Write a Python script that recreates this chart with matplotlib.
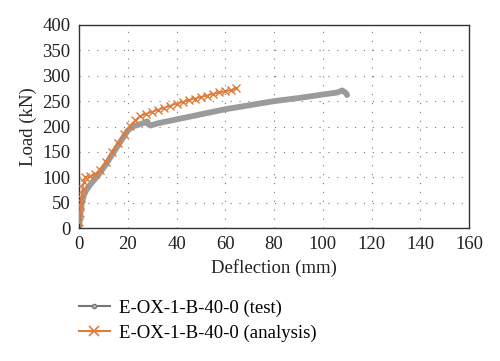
import matplotlib.pyplot as plt
from matplotlib.lines import Line2D

OUTPUT_PATH = "out.png"

# test curve (deflection mm, load kN)
test_defl = [0, 0.3, 0.7, 1.2, 2.0, 3.0, 5.0, 8.0, 11.0, 14.0, 17.0, 20.0, 22.0,
             24.0, 26.0, 28.0, 28.5, 29.5, 32.0, 40.0, 50.0, 60.0, 70.0, 80.0,
             90.0, 100.0, 106.0, 108.0, 109.5, 110.0]
test_load = [0, 15, 35, 50, 65, 75, 88, 105, 125, 148, 170, 192, 200,
             203, 206, 210, 204, 202, 206, 214, 224, 234, 242, 250,
             256, 263, 267, 271, 266, 262]

# analysis curve
ana_defl = [0, 0.3, 0.6, 1.0, 1.5, 2.0, 2.6, 4.5, 6.5, 8.5, 11.0, 13.5, 16.0,
            18.5, 21.0, 23.0, 25.0, 27.5, 30.0, 32.5, 35.0, 37.5, 40.0, 42.5,
            45.0, 47.5, 50.0, 52.5, 55.0, 57.5, 60.0, 62.5, 64.5]
ana_load = [12, 30, 45, 60, 78, 90, 100, 102, 106, 115, 130, 150, 168,
            185, 202, 212, 220, 225, 229, 233, 237, 241, 245, 248,
            252, 255, 258, 261, 264, 267, 269, 272, 275]

GRAY = "#9b9b9b"
ORANGE = "#e07b39"

plt.rcParams["font.family"] = ["Liberation Serif", "DejaVu Serif"]
plt.rcParams["font.size"] = 13.5

fig = plt.figure(figsize=(5.0, 3.61), dpi=100)
ax = fig.add_axes([0.158, 0.368, 0.78, 0.563])

ax.plot(test_defl, test_load, color=GRAY, linewidth=4.2,
        solid_capstyle="round", solid_joinstyle="round", zorder=2)
ax.plot(ana_defl, ana_load, color=ORANGE, linewidth=1.2, marker="x",
        markersize=6, markeredgewidth=1.0, zorder=3)

ax.set_xlim(0, 160)
ax.set_ylim(0, 400)
ax.set_xticks(range(0, 161, 20))
ax.set_yticks(range(0, 401, 50))
ax.tick_params(length=0, pad=6, colors="#222222")
ax.grid(True, color="#777777", linestyle=(0, (1, 7)), linewidth=0.8)
for s in ax.spines.values():
    s.set_color("#333333")
    s.set_linewidth(1.0)

ax.set_xlabel("Deflection (mm)", color="#222222", labelpad=4)
ax.set_ylabel("Load (kN)", color="#222222", labelpad=4)

handles = [
    Line2D([], [], color="#777777", linewidth=1.5, marker="o", markersize=3,
           markerfacecolor="#bbbbbb", markeredgecolor="#777777"),
    Line2D([], [], color=ORANGE, linewidth=1.5, marker="x", markersize=7,
           markeredgewidth=1.2),
]
fig.legend(handles, ["E-OX-1-B-40-0 (test)", "E-OX-1-B-40-0 (analysis)"],
           loc="upper left", bbox_to_anchor=(0.158, 0.17), frameon=False,
           handlelength=1.65, handletextpad=0.5, labelspacing=0.4,
           borderpad=0, borderaxespad=0)

fig.savefig(OUTPUT_PATH, dpi=100)
